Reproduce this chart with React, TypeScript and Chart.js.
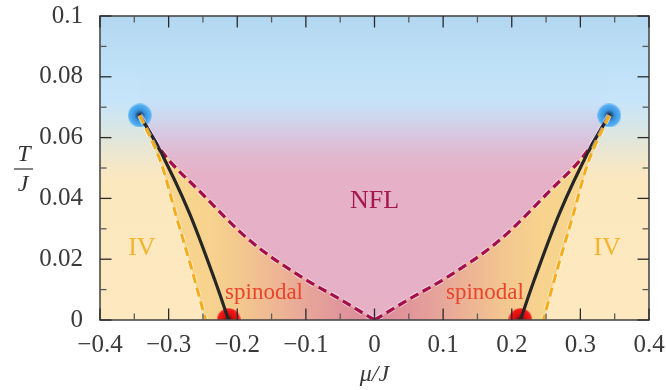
import React, { useEffect, useRef } from 'react';
import { Chart, registerables } from 'chart.js';

Chart.register(...registerables);

// ---- axis ticks ----
const xTickValues = [-0.4, -0.3, -0.2, -0.1, 0, 0.1, 0.2, 0.3, 0.4];
const xTickLabels = ['−0.4', '−0.3', '−0.2', '−0.1', '0', '0.1', '0.2', '0.3', '0.4'];
const yTickValues = [0, 0.02, 0.04, 0.06, 0.08, 0.1];
const yTickLabels = ['0', '0.02', '0.04', '0.06', '0.08', '0.1'];

// ---- curves (right half, |mu|; left half is the mirror image) ----
const crossoverMu = [0, 0.05, 0.109, 0.182, 0.255, 0.31, 0.342];
const crossoverT = [0, 0.0068, 0.0145, 0.0262, 0.0424, 0.0555, 0.0673];
const spinodalMu = [0.342, 0.316, 0.27, 0.233, 0.2125];
const spinodalT = [0.0673, 0.0572, 0.0353, 0.0133, 0];
const binodalMu = [0.342, 0.31, 0.29, 0.268, 0.246];
const binodalT = [0.0673, 0.051, 0.035, 0.018, 0];
const criticalMu = [-0.342, 0.342];
const criticalT = [0.0673, 0.0673];
const spinEndMu = [-0.2125, 0.2125];
const spinEndT = [0, 0];
const regionEdgeMu = 0.35;

// ---- text labels ----
const labelTexts = ['NFL', 'IV', 'IV', 'spinodal', 'spinodal'];
const labelMu = [0, -0.339, 0.339, -0.161, 0.161];
const labelT = [0.0369, 0.0215, 0.0215, 0.007, 0.007];
const labelKinds = ['nfl', 'iv', 'iv', 'sp', 'sp'];

// ---- styles ----
const FONT = '"Liberation Serif", "Times New Roman", serif';
const sideStops: [number, string][] = [
  [0.1, '#b3d7f0'], [0.085, '#bde0f6'], [0.072, '#c7e5fa'], [0.064, '#d6e6e8'],
  [0.057, '#e7e6d5'], [0.05, '#f6e7c5'], [0.045, '#fce8be'], [0, '#fde8bf'],
];
const pinkStops: [number, string][] = [
  [0.1, '#b3d7f0'], [0.085, '#bde0f6'], [0.072, '#c6e3f9'], [0.066, '#cfd5ec'],
  [0.06, '#d9c5de'], [0.054, '#e1b8cf'], [0.048, '#e5b1c6'], [0, '#e6b0c5'],
];
const warmStops: [number, string][] = [
  [-0.342, '#f8d88f'], [-0.24, '#f7d38d'], [-0.19, '#f3c68f'], [-0.14, '#edb594'],
  [-0.09, '#e6a39a'], [-0.04, '#df939a'], [0, '#dc8d99'], [0.04, '#df939a'],
  [0.09, '#e6a39a'], [0.14, '#edb594'], [0.19, '#f3c68f'], [0.24, '#f7d38d'], [0.342, '#f8d88f'],
];

const right = (xs: number[], ys: number[]) => xs.map((x, i) => ({ x, y: ys[i] }));
const left = (xs: number[], ys: number[]) => xs.map((x, i) => ({ x: -x, y: ys[i] }));

function vGrad(chart: any, stops: [number, string][]) {
  const a = chart.chartArea;
  const ys = chart.scales.y;
  if (!a || !ys) return stops[stops.length - 1][1];
  const g = chart.ctx.createLinearGradient(0, ys.getPixelForValue(0.1), 0, ys.getPixelForValue(0));
  stops.forEach(([v, c]) => g.addColorStop(Math.min(1, Math.max(0, (0.1 - v) / 0.1)), c));
  return g;
}
function hGrad(chart: any, stops: [number, string][]) {
  const a = chart.chartArea;
  const xs = chart.scales.x;
  if (!a || !xs) return stops[0][1];
  const lo = stops[0][0];
  const hi = stops[stops.length - 1][0];
  const g = chart.ctx.createLinearGradient(xs.getPixelForValue(lo), 0, xs.getPixelForValue(hi), 0);
  stops.forEach(([v, c]) => g.addColorStop((v - lo) / (hi - lo), c));
  return g;
}

function makeDot(stops: [number, string][], r: number) {
  const c = document.createElement('canvas');
  c.width = r * 2;
  c.height = r * 2;
  const g = c.getContext('2d')!;
  const grad = g.createRadialGradient(r, r, 0, r, r, r);
  stops.forEach(([p, col]) => grad.addColorStop(p, col));
  g.fillStyle = grad;
  g.beginPath();
  g.arc(r, r, r, 0, Math.PI * 2);
  g.fill();
  return c;
}

const decor = {
  id: 'decor',
  beforeDatasetsDraw(chart: any) {
    const { ctx, chartArea: a } = chart;
    ctx.save();
    ctx.fillStyle = vGrad(chart, sideStops);
    ctx.fillRect(a.left, a.top, a.right - a.left, a.bottom - a.top);
    ctx.restore();
  },
  afterDatasetsDraw(chart: any) {
    const { ctx, chartArea: a, scales } = chart;
    const xs = scales.x;
    const ys = scales.y;
    ctx.save();
    labelTexts.forEach((t, i) => {
      const k = labelKinds[i];
      ctx.font = (k === 'sp' ? '23px ' : '26px ') + FONT;
      ctx.fillStyle = k === 'nfl' ? '#a5164f' : k === 'iv' ? '#f4b52c' : '#e8452c';
      ctx.textAlign = 'center';
      ctx.textBaseline = 'alphabetic';
      ctx.fillText(t, xs.getPixelForValue(labelMu[i]), ys.getPixelForValue(labelT[i]));
    });
    ctx.strokeStyle = '#4a4a4a';
    ctx.lineWidth = 1.6;
    ctx.strokeRect(a.left, a.top, a.right - a.left, a.bottom - a.top);
    const tick = (x1: number, y1: number, x2: number, y2: number, major: boolean) => {
      ctx.strokeStyle = major ? '#2a2a2a' : '#5a5a5a';
      ctx.lineWidth = 1.3;
      ctx.beginPath();
      ctx.moveTo(x1, y1);
      ctx.lineTo(x2, y2);
      ctx.stroke();
    };
    const MAJ = 11.5;
    const MIN = 6.5;
    xTickValues.forEach((v, i) => {
      const marks: [number, boolean][] = [[v, true]];
      if (i < xTickValues.length - 1) marks.push([(v + xTickValues[i + 1]) / 2, false]);
      marks.forEach(([m, major]) => {
        const px = xs.getPixelForValue(m);
        const L = major ? MAJ : MIN;
        tick(px, a.bottom, px, a.bottom - L, major);
        tick(px, a.top, px, a.top + L, major);
      });
    });
    yTickValues.forEach((v, i) => {
      const marks: [number, boolean][] = [[v, true]];
      if (i < yTickValues.length - 1) marks.push([(v + yTickValues[i + 1]) / 2, false]);
      marks.forEach(([m, major]) => {
        const py = ys.getPixelForValue(m);
        const L = major ? MAJ : MIN;
        tick(a.left, py, a.left + L, py, major);
        tick(a.right, py, a.right - L, py, major);
      });
    });
    ctx.restore();
  },
  afterDraw(chart: any) {
    const { ctx } = chart;
    ctx.save();
    ctx.fillStyle = '#333';
    ctx.font = 'italic 24px ' + FONT;
    ctx.textAlign = 'center';
    ctx.textBaseline = 'alphabetic';
    ctx.fillText('T', 24, 161);
    ctx.fillText('J', 23, 191);
    ctx.strokeStyle = '#333';
    ctx.lineWidth = 1.2;
    ctx.beginPath();
    ctx.moveTo(14, 169);
    ctx.lineTo(33, 169);
    ctx.stroke();
    ctx.restore();
  },
};

export default function App() {
  const ref = useRef<HTMLCanvasElement | null>(null);
  useEffect(() => {
    if (!ref.current) return;
    const blueDot = makeDot([
      [0, '#14202e'], [0.2, '#234f7c'], [0.45, '#3a93dc'], [0.75, '#4aa8ef'],
      [0.9, '#58b0f1'], [1, 'rgba(100,185,245,0.5)'],
    ], 12);
    const redDot = makeDot([
      [0, '#4a0000'], [0.2, '#8e0a0a'], [0.45, '#d81010'], [0.75, '#f01414'],
      [0.9, '#f22020'], [1, 'rgba(245,60,50,0.55)'],
    ], 12);

    const crossFull = [...left(crossoverMu, crossoverT).reverse(), ...right(crossoverMu, crossoverT).slice(1)];
    const crossL = left(crossoverMu, crossoverT);
    const crossR = right(crossoverMu, crossoverT);
    const spinL = left(spinodalMu, spinodalT);
    const spinR = right(spinodalMu, spinodalT);
    const binL = left(binodalMu, binodalT);
    const binR = right(binodalMu, binodalT);
    const creamL = [...binL, { x: -regionEdgeMu, y: 0 }, { x: -regionEdgeMu, y: criticalT[0] }];
    const creamR = [...binR, { x: regionEdgeMu, y: 0 }, { x: regionEdgeMu, y: criticalT[1] }];

    const fillDs = (data: any[], fill: any, bg: any, order: number) => ({
      data, fill, backgroundColor: bg, borderWidth: 0, borderColor: 'rgba(0,0,0,0)',
      pointRadius: 0, tension: 0, order,
    });
    const lineDs = (data: any[], color: string, width: number, dash: number[], order: number) => ({
      data, fill: false, borderColor: color, borderWidth: width, borderDash: dash,
      pointRadius: 0, cubicInterpolationMode: 'monotone', borderCapStyle: 'butt', order,
    });

    const chart = new Chart(ref.current, {
      type: 'line',
      data: {
        datasets: [
          fillDs(crossFull, 'end', (c: any) => vGrad(c.chart, pinkStops), 20),
          fillDs(crossFull, 'origin', (c: any) => hGrad(c.chart, warmStops), 19),
          fillDs(creamL, 'shape', (c: any) => vGrad(c.chart, sideStops), 18),
          fillDs(creamR, 'shape', (c: any) => vGrad(c.chart, sideStops), 18),
          {
            data: right(criticalMu, criticalT), showLine: false, pointStyle: blueDot,
            pointRadius: 12, order: 10,
          },
          {
            data: right(spinEndMu, spinEndT), showLine: false, pointStyle: redDot,
            pointRadius: 12, order: 10, clip: 0,
          },
          lineDs(crossL, 'rgba(255,255,255,0.55)', 5.2, [9, 5], 9),
          lineDs(crossR, 'rgba(255,255,255,0.55)', 5.2, [9, 5], 9),
          lineDs(crossL, '#a50f4c', 3.3, [9, 5], 8),
          lineDs(crossR, '#a50f4c', 3.3, [9, 5], 8),
          lineDs(spinL, '#262626', 3.2, [], 6),
          lineDs(spinR, '#262626', 3.2, [], 6),
          lineDs(binL, 'rgba(255,255,255,0.5)', 5, [9, 5], 5),
          lineDs(binR, 'rgba(255,255,255,0.5)', 5, [9, 5], 5),
          lineDs(binL, '#f5ad1c', 3, [9, 5], 4),
          lineDs(binR, '#f5ad1c', 3, [9, 5], 4),
        ] as any,
      },
      options: {
        animation: false,
        responsive: true,
        maintainAspectRatio: false,
        layout: { padding: { left: 0, right: 17, top: 16, bottom: 0 } },
        plugins: { legend: { display: false }, tooltip: { enabled: false } },
        scales: {
          x: {
            type: 'linear', min: -0.4, max: 0.4,
            afterBuildTicks: (s: any) => { s.ticks = xTickValues.map((v) => ({ value: v })); },
            afterFit: (s: any) => { s.height = 70; s.paddingLeft = 0; s.paddingRight = 0; },
            ticks: {
              autoSkip: false, maxRotation: 0, padding: 2, color: '#3a3a3a',
              font: { family: FONT, size: 25 },
              callback: (_v: any, i: number) => xTickLabels[i],
            },
            grid: { display: false },
            border: { display: false },
            title: {
              display: true, text: 'μ/J', color: '#3a3a3a',
              font: { family: FONT, size: 24, style: 'italic' }, padding: { top: 0, bottom: 1 },
            },
          },
          y: {
            type: 'linear', min: 0, max: 0.1,
            afterBuildTicks: (s: any) => { s.ticks = yTickValues.map((v) => ({ value: v })); },
            afterFit: (s: any) => { s.width = 100; s.paddingTop = 0; s.paddingBottom = 0; },
            ticks: {
              autoSkip: false, padding: 9, color: '#3a3a3a',
              font: { family: FONT, size: 25 },
              callback: (_v: any, i: number) => yTickLabels[i],
            },
            grid: { display: false },
            border: { display: false },
          },
        },
      } as any,
      plugins: [decor],
    });
    return () => chart.destroy();
  }, []);
  return (
    <div style={{ position: 'fixed', left: 0, top: 0, width: 666, height: 390, background: '#fff' }}>
      <canvas ref={ref} />
    </div>
  );
}
